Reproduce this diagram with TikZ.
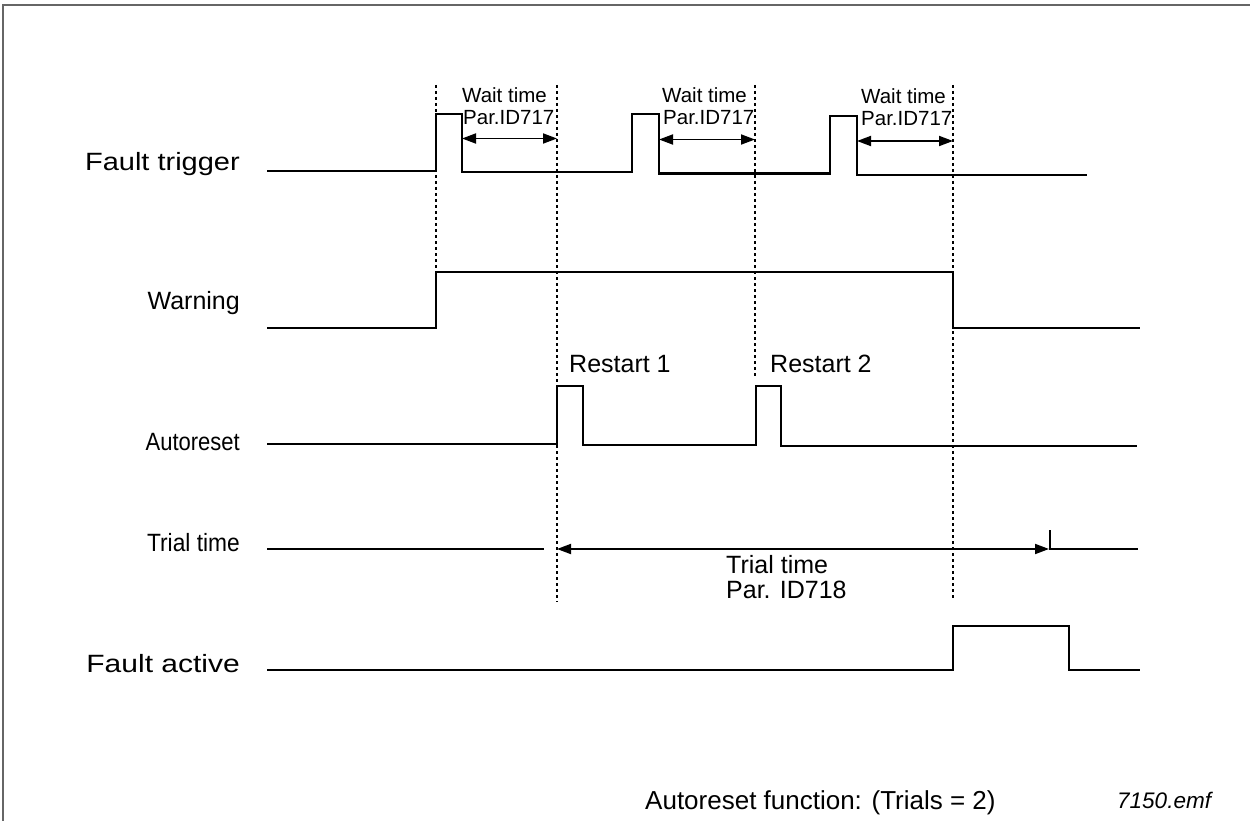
\documentclass[tikz,border=0pt]{standalone}
\usepackage{fontspec}
\setmainfont{Liberation Sans}
\usetikzlibrary{arrows.meta}
\begin{document}
\begin{tikzpicture}[x=1pt,y=-1pt,
  sig/.style={line width=2.6pt, line join=miter},
  guide/.style={line width=2.4pt, dash pattern=on 3pt off 3pt},
  span/.style={line width=1.8pt, {Triangle[length=14pt,width=10pt]}-{Triangle[length=14pt,width=10pt]}},
  lbl/.style={anchor=base east, inner sep=0pt, font=\fontsize{25}{30}\selectfont},
  mid/.style={anchor=base west, inner sep=0pt, font=\fontsize{25}{30}\selectfont},
  small/.style={anchor=base west, inner sep=0pt, font=\fontsize{20.5}{24}\selectfont},
  frame/.style={line width=2pt, draw=black!60}]
\useasboundingbox (0,0) rectangle (1250,821);
\draw[frame] (3,821) -- (3,5) -- (1250,5);

% row labels
\node[lbl] (lft) at (240,171) {\scalebox{1.16}[1]{Fault trigger}};
\node[lbl] (lw)  at (240,309) {Warning};
\node[lbl] (la)  at (240,450) {\scalebox{0.88}[1]{Autoreset}};
\node[lbl] (lt)  at (240,551) {\scalebox{0.91}[1]{Trial time}};
\node[lbl] (lf)  at (240,672) {\scalebox{1.2}[1]{Fault active}};

% guide (dotted) lines
\coordinate (g1t) at (436,85);  \coordinate (g1b) at (436,268);
\coordinate (g2t) at (557,85);  \coordinate (g2b) at (557,602);
\coordinate (g3t) at (755,85);  \coordinate (g3b) at (755,376);
\coordinate (g4t) at (953,85);  \coordinate (g4b) at (953,600);
\draw[guide] (g1t) -- (g1b);
\draw[guide] (g2t) -- (g2b);
\draw[guide] (g3t) -- (g3b);
\draw[guide] (g4t) -- (g4b);

% Fault trigger
\draw[sig] (267,171) -- (436,171) -- (436,114) -- (462,114) -- (462,172)
  -- (632,172) -- (632,114) -- (659,114) -- (659,173.5)
  -- (830,173.5) -- (830,116) -- (857,116) -- (857,175) -- (1087,175);

% Wait time labels and arrows
\node[small] (w1a) at (462,103) {Wait time};
\node[small] (w1b) at (463,125) {Par.ID717};
\node[small] (w2a) at (662,103) {Wait time};
\node[small] (w2b) at (663,125) {Par.ID717};
\node[small] (w3a) at (861,104) {Wait time};
\node[small] (w3b) at (861,126) {Par.ID717};
\coordinate (a1l) at (462,138.5); \coordinate (a1r) at (557,138.5);
\coordinate (a2l) at (659,139.5); \coordinate (a2r) at (755,139.5);
\coordinate (a3l) at (857,141);   \coordinate (a3r) at (953,141);
\draw[span] (a1l) -- (a1r);
\draw[span] (a2l) -- (a2r);
\draw[span] (a3l) -- (a3r);

% Warning
\draw[sig] (267,328) -- (436,328) -- (436,272) -- (953,272) -- (953,328) -- (1140,328);

% Autoreset
\draw[sig] (267,444) -- (557,444) -- (557,386) -- (583,386) -- (583,445)
  -- (756,445) -- (756,386) -- (781,386) -- (781,446) -- (1137,446);
\node[mid] (r1) at (569,372) {Restart 1};
\node[mid] (r2) at (770,372) {Restart 2};

% Trial time
\draw[sig] (267,549) -- (544,549);
\draw[sig] (1050,530) -- (1050,549) -- (1138,549);
\coordinate (tl) at (557,549); \coordinate (tr) at (1049,549);
\draw[span] (tl) -- (tr);
\node[mid] (tt1) at (726,573) {Trial time};
\node[mid] (tt2) at (726,598) {Par. ID718};

% Fault active
\draw[sig] (267,670) -- (953,670) -- (953,626) -- (1069,626) -- (1069,670) -- (1140,670);

% footer
\node[anchor=base west, inner sep=0pt, font=\fontsize{26}{30}\selectfont] (cap) at (645,809) {Autoreset function: (Trials = 2)};
\node[anchor=base west, inner sep=0pt, font=\fontsize{22.5}{26}\selectfont\itshape] (fn) at (1117,808) {7150.emf};
\end{tikzpicture}
\end{document}
